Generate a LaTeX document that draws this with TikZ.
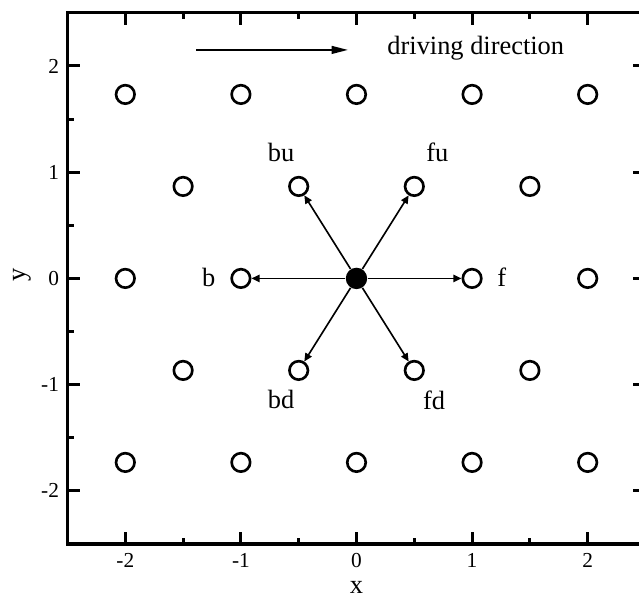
\documentclass[tikz,border=0pt]{standalone}
\usepackage{fontspec}
\setmainfont{Liberation Serif}
\usetikzlibrary{arrows.meta}

\begin{document}
\begin{tikzpicture}[x=2cm,y=1.838cm,
  every node/.style={font=\fontsize{13}{15}\selectfont},
  site/.style={draw,circle,line width=1.3pt,minimum size=0.32cm,inner sep=0pt},
  centre/.style={circle,fill=black,minimum size=0.37cm,inner sep=0pt},
  hop/.style={-{Triangle[length=4pt,width=3.6pt]},line width=0.8pt},
  drive/.style={-{Triangle[length=8pt,width=3.8pt]},line width=0.9pt},
  frame/.style={line width=1.5pt},
  ticklabel/.style={font=\fontsize{10.5}{12}\selectfont,inner sep=0pt}
]
  \clip (-3.084,-3.007) rectangle (2.444,2.621);
  \draw[frame] (-2.5,-2.5) rectangle (2.5,2.5);
  \foreach \t [count=\k] in {-2,...,2} {
    \draw[frame] (\t,-2.5) -- ++(0pt,0.21cm);
    \draw[frame] (\t,2.5) -- ++(0pt,-0.21cm);
    \draw[frame] (-2.5,\t) -- ++(0.21cm,0pt);
    \draw[frame] (2.5,\t) -- ++(-0.21cm,0pt);
    \node[ticklabel,anchor=north,yshift=-0.15cm] (xt\k) at (\t,-2.5) {\t};
    \node[ticklabel,anchor=east,xshift=-0.14cm] (yt\k) at (-2.5,\t) {\t};
  }
  \foreach \t in {-1.5,-0.5,0.5,1.5} {
    \draw[frame] (\t,-2.5) -- ++(0pt,0.11cm);
    \draw[frame] (\t,2.5) -- ++(0pt,-0.11cm);
    \draw[frame] (-2.5,\t) -- ++(0.11cm,0pt);
    \draw[frame] (2.5,\t) -- ++(-0.11cm,0pt);
  }
  \node (xlabel) at (0,-2.913) {x};
  \node[rotate=90] (ylabel) at (-2.894,0.03) {y};

  \coordinate (dfrom) at (-1.388,2.151);
  \coordinate (dto) at (-0.0735,2.151);
  \draw[drive] (dfrom) -- (dto);
  \node[anchor=base west,inner sep=0pt] (dlabel) at (0.264,2.104) {driving direction};

  \foreach \px/\py [count=\k] in {-2/1.732,-1/1.732,0/1.732,1/1.732,2/1.732,
      -2/-1.732,-1/-1.732,0/-1.732,1/-1.732,2/-1.732,
      -1.5/0.866,1.5/0.866,-1.5/-0.866,1.5/-0.866,-2/0,2/0}
    \node[site] (s\k) at (\px,\py) {};

  \node[centre] (o) at (0,0) {};
  \node[site] (f) at (1,0) {};
  \node[site] (b) at (-1,0) {};
  \node[site] (fu) at (0.5,0.866) {};
  \node[site] (bu) at (-0.5,0.866) {};
  \node[site] (fd) at (0.5,-0.866) {};
  \node[site] (bd) at (-0.5,-0.866) {};
  \node (lf) at (1.256,0.01) {f};
  \node (lb) at (-1.278,0.01) {b};
  \node (lfu) at (0.70,1.186) {fu};
  \node (lbu) at (-0.652,1.183) {bu};
  \node (lfd) at (0.672,-1.144) {fd};
  \node (lbd) at (-0.652,-1.144) {bd};
  \foreach \n in {f,fu,bu,b,bd,fd}
    \draw[hop] (o) -- (\n);
\end{tikzpicture}
\end{document}
